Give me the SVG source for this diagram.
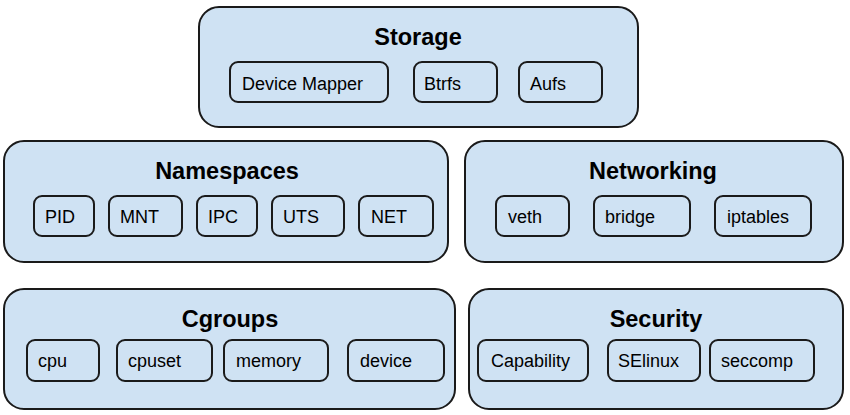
<svg xmlns="http://www.w3.org/2000/svg" width="850" height="415" viewBox="0 0 850 415">
<style>
.outer{fill:#cfe2f3;stroke:#1a1a1a;stroke-width:2}
.inner{fill:#cfe2f3;stroke:#1a1a1a;stroke-width:2}
.title{font-family:"Liberation Sans",Arial,sans-serif;font-weight:bold;font-size:23.5px;fill:#000;text-anchor:middle}
.item{font-family:"Liberation Sans",Arial,sans-serif;font-size:18px;fill:#000}
</style>
<rect width="850" height="415" fill="#fff"/>
<g id="storage">
<rect class="outer" x="199" y="7" width="439" height="120" rx="20"/>
<text class="title" x="418" y="45">Storage</text>
<rect class="inner" x="230" y="62" width="158" height="40" rx="8"/>
<text class="item" x="242" y="90">Device Mapper</text>
<rect class="inner" x="414" y="62" width="83" height="40" rx="8"/>
<text class="item" x="424" y="90">Btrfs</text>
<rect class="inner" x="519" y="62" width="83" height="40" rx="8"/>
<text class="item" x="530" y="90">Aufs</text>
</g>
<g id="namespaces">
<rect class="outer" x="4" y="141" width="444" height="121" rx="20"/>
<text class="title" x="227" y="179">Namespaces</text>
<rect class="inner" x="34" y="196" width="60" height="40" rx="8"/>
<text class="item" x="45" y="223">PID</text>
<rect class="inner" x="109" y="196" width="73" height="40" rx="8"/>
<text class="item" x="120" y="223">MNT</text>
<rect class="inner" x="197" y="196" width="60" height="40" rx="8"/>
<text class="item" x="208" y="223">IPC</text>
<rect class="inner" x="272" y="196" width="72" height="40" rx="8"/>
<text class="item" x="283" y="223">UTS</text>
<rect class="inner" x="359" y="196" width="74" height="40" rx="8"/>
<text class="item" x="371" y="223">NET</text>
</g>
<g id="networking">
<rect class="outer" x="465" y="141" width="378" height="121" rx="20"/>
<text class="title" x="653" y="179">Networking</text>
<rect class="inner" x="496" y="196" width="73" height="40" rx="8"/>
<text class="item" x="508" y="223">veth</text>
<rect class="inner" x="594" y="196" width="96" height="40" rx="8"/>
<text class="item" x="605" y="223">bridge</text>
<rect class="inner" x="715" y="196" width="96" height="40" rx="8"/>
<text class="item" x="727" y="223">iptables</text>
</g>
<g id="cgroups">
<rect class="outer" x="4" y="289" width="451" height="120" rx="20"/>
<text class="title" x="230" y="327">Cgroups</text>
<rect class="inner" x="27" y="340" width="72" height="41" rx="8"/>
<text class="item" x="38" y="367">cpu</text>
<rect class="inner" x="117" y="340" width="95" height="41" rx="8"/>
<text class="item" x="128" y="367">cpuset</text>
<rect class="inner" x="224" y="340" width="104" height="41" rx="8"/>
<text class="item" x="236" y="367">memory</text>
<rect class="inner" x="348" y="340" width="96" height="41" rx="8"/>
<text class="item" x="360" y="367">device</text>
</g>
<g id="security">
<rect class="outer" x="469" y="289" width="374" height="120" rx="20"/>
<text class="title" x="656" y="327">Security</text>
<rect class="inner" x="478" y="340" width="110" height="41" rx="8"/>
<text class="item" x="491" y="367">Capability</text>
<rect class="inner" x="608" y="340" width="92" height="41" rx="8"/>
<text class="item" x="618" y="367">SElinux</text>
<rect class="inner" x="710" y="340" width="104" height="41" rx="8"/>
<text class="item" x="721" y="367">seccomp</text>
</g>
<g id="connectors"></g>
</svg>
